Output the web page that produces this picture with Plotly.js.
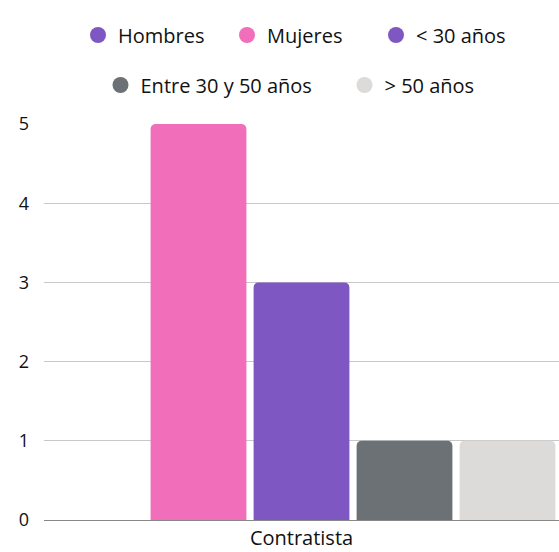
<!DOCTYPE html>
<html><head><meta charset="utf-8">
<script src="https://cdn.plot.ly/plotly-3.0.1.min.js"></script>
<style>html,body{margin:0;padding:0;background:#fff}#chart{width:559px;height:552px}</style>
</head><body><div id="chart"></div>
<script>
const categories = ["Contratista"];
const seriesNames = ["Hombres", "Mujeres", "< 30 años", "Entre 30 y 50 años", "> 50 años"];
const hombres = [0];
const mujeres = [5];
const menos30 = [3];
const entre30y50 = [1];
const mas50 = [1];
const colors = ["#7E57C2", "#F06EBA", "#7E57C2", "#6B7174", "#DCDBD9"];

const values = [hombres, mujeres, menos30, entre30y50, mas50];
const legendIds = ["legend", "legend", "legend", "legend2", "legend3"];
const font = "'Open Sans', sans-serif";
const traces = [];
values.forEach((v, i) => {
  traces.push({type: "bar", x: categories, y: v, name: seriesNames[i],
    marker: {color: colors[i]}, showlegend: false, hoverinfo: "none"});
});
values.forEach((v, i) => {
  traces.push({type: "scatter", mode: "markers", x: [null], y: [null], name: seriesNames[i],
    marker: {color: colors[i], size: 20, symbol: "circle"},
    legend: legendIds[i], hoverinfo: "none"});
});

const plotH = 552 - 124 - 32;
const plotW = 559 - 44;
const legFont = {size: 20, family: font, color: "#111"};
const layout = {
  width: 559, height: 552,
  margin: {l: 44, r: 0, t: 124, b: 32, autoexpand: false},
  paper_bgcolor: "#fff", plot_bgcolor: "#fff",
  font: {family: font, size: 18, color: "#111"},
  barmode: "group", bargap: 0, bargroupgap: 0.07, barcornerradius: 5,
  xaxis: {showgrid: false, showline: true, linecolor: "#888", linewidth: 1,
    tickfont: {size: 20, color: "#111"}, ticks: "", fixedrange: true},
  yaxis: {range: [0, 5], dtick: 1, showgrid: true, gridcolor: "#c8c8c8", gridwidth: 1,
    zeroline: false, showline: false, ticks: "", tickfont: {size: 18, color: "#111"},
    ticklabelstandoff: 14, fixedrange: true},
  legend: {orientation: "h", x: 0.5, xanchor: "center", y: (552 - 32 - 35) / plotH, yanchor: "middle",
    entrywidth: 104, entrywidthmode: "pixels",
    font: legFont, itemclick: false, bgcolor: "rgba(0,0,0,0)"},
  legend2: {orientation: "h", x: (209 - 44) / plotW, xanchor: "center", y: (552 - 32 - 85) / plotH, yanchor: "middle",
    font: legFont, itemclick: false, bgcolor: "rgba(0,0,0,0)"},
  legend3: {orientation: "h", x: (412 - 44) / plotW, xanchor: "center", y: (552 - 32 - 85) / plotH, yanchor: "middle",
    font: legFont, itemclick: false, bgcolor: "rgba(0,0,0,0)"},
  showlegend: true
};
Plotly.newPlot("chart", traces, layout, {displayModeBar: false, staticPlot: true});
</script></body></html>
